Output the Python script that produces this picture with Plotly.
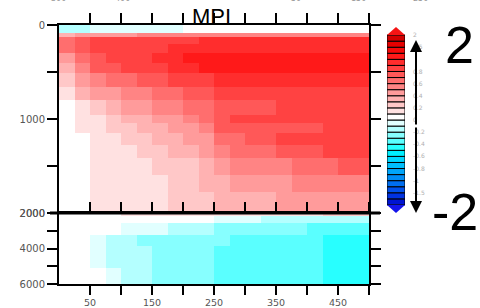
import plotly.graph_objects as go

# ---------------- data ----------------
years = [0, 25, 50, 75, 100, 125, 150, 175, 200, 225, 250, 275, 300, 325, 350, 375, 400, 425, 450, 475, 500]
depth_upper = [0, 80, 130, 200, 300, 400, 510, 660, 800, 960, 1040, 1150, 1280, 1420, 1600, 1780, 2000]
depth_lower = [2000, 2170, 2560, 3240, 3860, 5100, 6000]

temp_upper = [
    [-0.15, -0.12, -0.08, -0.06, -0.04, -0.03, -0.02, -0.01, 0.02, 0.03, 0.05, 0.05, 0.05, 0.05, 0.05, 0.05, 0.05, 0.05, 0.05, 0.05],
    [0.3, 0.4, 0.45, 0.45, 0.45, 0.5, 0.5, 0.5, 0.5, 0.5, 0.55, 0.55, 0.55, 0.55, 0.55, 0.55, 0.55, 0.55, 0.55, 0.55],
    [0.62, 0.75, 0.8, 0.82, 0.85, 0.85, 0.85, 0.88, 0.88, 0.9, 0.92, 0.92, 0.92, 0.92, 0.92, 0.92, 0.92, 0.92, 0.92, 0.92],
    [0.6, 0.75, 0.8, 0.85, 0.88, 0.88, 0.88, 0.9, 0.92, 0.95, 0.95, 0.95, 0.95, 0.95, 0.95, 0.95, 0.95, 0.95, 0.95, 0.95],
    [0.45, 0.65, 0.75, 0.8, 0.85, 0.88, 0.9, 0.95, 1.0, 1.0, 1.05, 1.05, 1.05, 1.05, 1.05, 1.08, 1.08, 1.08, 1.08, 1.08],
    [0.35, 0.55, 0.7, 0.75, 0.8, 0.85, 0.88, 0.92, 0.95, 1.0, 1.05, 1.05, 1.05, 1.05, 1.05, 1.05, 1.08, 1.08, 1.08, 1.08],
    [0.2, 0.45, 0.55, 0.6, 0.65, 0.7, 0.75, 0.8, 0.82, 0.85, 0.92, 0.95, 0.95, 0.95, 0.95, 0.95, 0.95, 0.95, 0.95, 0.95],
    [0.1, 0.3, 0.4, 0.45, 0.5, 0.55, 0.6, 0.65, 0.7, 0.72, 0.82, 0.85, 0.85, 0.85, 0.85, 0.88, 0.88, 0.88, 0.88, 0.88],
    [0.05, 0.18, 0.28, 0.33, 0.4, 0.45, 0.5, 0.55, 0.6, 0.62, 0.72, 0.75, 0.75, 0.78, 0.8, 0.85, 0.85, 0.85, 0.85, 0.85],
    [0.02, 0.12, 0.18, 0.25, 0.32, 0.38, 0.42, 0.48, 0.52, 0.65, 0.75, 0.8, 0.8, 0.8, 0.88, 0.88, 0.88, 0.88, 0.88, 0.88],
    [0.02, 0.1, 0.15, 0.2, 0.25, 0.3, 0.35, 0.4, 0.45, 0.52, 0.7, 0.78, 0.78, 0.78, 0.78, 0.78, 0.78, 0.85, 0.88, 0.88],
    [0.02, 0.06, 0.12, 0.15, 0.22, 0.25, 0.32, 0.38, 0.42, 0.48, 0.62, 0.65, 0.7, 0.72, 0.8, 0.8, 0.8, 0.8, 0.8, 0.8],
    [0.02, 0.04, 0.1, 0.12, 0.15, 0.22, 0.25, 0.3, 0.35, 0.42, 0.55, 0.6, 0.62, 0.65, 0.7, 0.72, 0.75, 0.8, 0.8, 0.8],
    [0.02, 0.03, 0.1, 0.12, 0.14, 0.18, 0.22, 0.25, 0.28, 0.35, 0.45, 0.5, 0.52, 0.55, 0.58, 0.6, 0.62, 0.65, 0.7, 0.7],
    [0.02, 0.02, 0.1, 0.1, 0.12, 0.15, 0.18, 0.22, 0.25, 0.3, 0.35, 0.4, 0.42, 0.45, 0.47, 0.5, 0.5, 0.52, 0.55, 0.55],
    [0.02, 0.02, 0.1, 0.12, 0.12, 0.15, 0.15, 0.2, 0.22, 0.25, 0.3, 0.33, 0.35, 0.38, 0.4, 0.42, 0.42, 0.45, 0.45, 0.48],
]

temp_lower = [
    [0.02, 0.02, 0.02, 0.05, 0.12, 0.12, 0.12, 0.12, 0.12, 0.12, 0.12, 0.12, 0.12, 0.12, 0.12, 0.12, 0.15, 0.22, 0.22, 0.22],
    [0.02, 0.02, 0.02, 0.02, 0.02, 0.02, 0.02, 0.02, 0.02, 0.02, -0.05, -0.05, -0.05, -0.12, -0.12, -0.12, -0.12, -0.12, -0.12, -0.12],
    [0.02, 0.02, 0.02, 0.02, -0.05, -0.05, -0.05, -0.15, -0.15, -0.15, -0.25, -0.25, -0.25, -0.3, -0.3, -0.3, -0.35, -0.35, -0.35, -0.35],
    [0.02, 0.02, -0.05, -0.12, -0.18, -0.25, -0.25, -0.25, -0.3, -0.3, -0.3, -0.35, -0.35, -0.35, -0.38, -0.38, -0.38, -0.42, -0.42, -0.42],
    [0.02, 0.02, -0.05, -0.12, -0.18, -0.18, -0.28, -0.28, -0.28, -0.28, -0.33, -0.33, -0.33, -0.38, -0.38, -0.38, -0.38, -0.45, -0.45, -0.45],
    [0.02, 0.02, 0.02, -0.05, -0.12, -0.12, -0.25, -0.25, -0.25, -0.25, -0.32, -0.32, -0.32, -0.32, -0.38, -0.38, -0.38, -0.42, -0.42, -0.42],
]

x_tickvals = [50, 100, 150, 200, 250, 300, 350, 400, 450, 500]
x_ticktext = ["50", "", "150", "", "250", "", "350", "", "450", ""]
yu_tickvals = [0, 500, 1000, 1500, 2000]
yu_ticktext = ["0", "", "1000", "", "2000"]
yl_tickvals = [2000, 3000, 4000, 5000, 6000]
yl_ticktext = ["2000", "", "4000", "", "6000"]

levels = [-2, -1.75, -1.5, -1.25, -1, -0.9, -0.8, -0.7, -0.6, -0.5, -0.4, -0.3, -0.2, -0.1,
          0, 0.1, 0.2, 0.3, 0.4, 0.5, 0.6, 0.7, 0.8, 0.9, 1, 1.25, 1.5, 1.75, 2]
cbar_labels = {2: "2", 1.5: "1.5", 0.8: "0.8", 0.6: "0.6", 0.4: "0.4", 0.2: "0.2", 0: "0",
               -0.2: "-0.2", -0.4: "-0.4", -0.6: "-0.6", -0.8: "-0.8", -1: "-1", -1.5: "-1.5", -2: "-2"}

box_colors = [
    "rgb(0,20,210)", "rgb(0,50,225)", "rgb(0,80,235)", "rgb(0,110,240)",
    "rgb(0,140,245)", "rgb(0,165,250)", "rgb(0,190,252)", "rgb(0,215,255)",
    "rgb(0,238,255)", "rgb(40,255,255)", "rgb(90,255,255)", "rgb(135,255,255)",
    "rgb(180,255,255)", "rgb(225,255,255)",
    "rgb(255,255,255)", "rgb(255,225,225)", "rgb(255,200,200)", "rgb(255,178,178)",
    "rgb(255,155,155)", "rgb(255,132,132)", "rgb(255,110,110)", "rgb(255,88,88)",
    "rgb(255,66,66)", "rgb(255,45,45)", "rgb(255,25,25)", "rgb(245,10,10)",
    "rgb(230,0,0)", "rgb(210,0,0)",
]
over_color = "rgb(245,20,20)"
under_color = "rgb(20,20,235)"

# ---------------- layout geometry (pixels) ----------------
W, H = 480, 308
px_left, px_right = 59, 369
px_top, px_mid, px_bot = 25, 213, 284
cb_left, cb_right = 387, 405
cb_top_tip, cb_bot_tip = 27, 213
cb_box_top, cb_box_bot = 35, 203


def fx(p):
    return p / W


def fy(p):
    return (H - p) / H


zmin, zmax = levels[0], levels[-1]
colorscale = []
for i, c in enumerate(box_colors):
    lo = (levels[i] - zmin) / (zmax - zmin)
    hi = (levels[i + 1] - zmin) / (zmax - zmin)
    colorscale.append([lo, c])
    colorscale.append([hi if i == len(box_colors) - 1 else hi - 1e-6, c])

fig = go.Figure()

fig.add_trace(go.Heatmap(x=years, y=depth_upper, z=temp_upper, zmin=zmin, zmax=zmax,
                         colorscale=colorscale, showscale=False, xaxis="x", yaxis="y",
                         hoverinfo="skip"))
fig.add_trace(go.Heatmap(x=years, y=depth_lower, z=temp_lower, zmin=zmin, zmax=zmax,
                         colorscale=colorscale, showscale=False, xaxis="x2", yaxis="y2",
                         hoverinfo="skip"))

# custom colorbar with outlined boxes
nbox = len(box_colors)
fig.add_trace(go.Bar(x=[0.5] * nbox, y=[1] * nbox, base=list(range(nbox)), width=1,
                     marker=dict(color=box_colors, line=dict(color="black", width=1)),
                     xaxis="x3", yaxis="y3", cliponaxis=False, hoverinfo="skip"))
tri_h = (cb_box_top - cb_top_tip) / ((cb_box_bot - cb_box_top) / nbox)
fig.add_trace(go.Scatter(x=[0, 1, 0.5, 0], y=[nbox, nbox, nbox + tri_h, nbox], fill="toself",
                         fillcolor=over_color, line=dict(width=0), mode="lines",
                         xaxis="x3", yaxis="y3", hoverinfo="skip"))
fig.add_trace(go.Scatter(x=[0, 1, 0.5, 0], y=[0, 0, -tri_h, 0], fill="toself",
                         fillcolor=under_color, line=dict(width=0), mode="lines",
                         xaxis="x3", yaxis="y3", hoverinfo="skip"))

cb_tickvals = [levels.index(l) for l in cbar_labels]
cb_ticktext = list(cbar_labels.values())

tickfont = dict(family="DejaVu Sans", size=10, color="#555555")
axis_common = dict(showgrid=False, zeroline=False, showline=True, linecolor="black", linewidth=2,
                   ticks="outside", tickwidth=2, tickcolor="black", automargin=False)

xdom = [fx(px_left), fx(px_right)]
fig.update_layout(
    width=W, height=H, margin=dict(l=0, r=0, t=0, b=0, pad=0),
    paper_bgcolor="white", plot_bgcolor="white", showlegend=False, barmode="overlay",
    xaxis=dict(domain=xdom, range=[0, 500], anchor="y", side="top", tickvals=x_tickvals,
               showticklabels=False, ticklen=10, **axis_common),
    yaxis=dict(domain=[fy(px_mid), fy(px_top)], range=[2000, 0], anchor="x",
               tickvals=yu_tickvals, ticktext=yu_ticktext, mirror="ticks", ticklen=10,
               tickfont=tickfont, **axis_common),
    xaxis2=dict(domain=xdom, range=[0, 500], anchor="y2", side="bottom", tickvals=x_tickvals,
                ticktext=x_ticktext, mirror="ticks", ticklen=9,
                tickfont=dict(family="DejaVu Sans", size=9.5, color="#555555"), **axis_common),
    yaxis2=dict(domain=[fy(px_bot), fy(px_mid)], range=[6000, 2000], anchor="x2",
                tickvals=yl_tickvals, ticktext=yl_ticktext, mirror="ticks", ticklen=10,
                tickfont=tickfont, **axis_common),
    xaxis3=dict(domain=[fx(cb_left), fx(cb_right)], range=[0, 1], anchor="y3", visible=False,
                automargin=False),
    yaxis3=dict(domain=[fy(cb_bot_tip), fy(cb_top_tip)], range=[-tri_h, nbox + tri_h], anchor="x3",
                side="right", showgrid=False, zeroline=False, showline=False, ticks="",
                tickvals=cb_tickvals, ticktext=cb_ticktext, ticklabelstandoff=7, automargin=False,
                tickfont=dict(family="DejaVu Sans", size=6, color="#b0b0b0")),
)

# thick separator line at 2000 m
fig.add_shape(type="line", xref="paper", yref="paper", x0=fx(px_left - 9), x1=fx(px_right + 11),
              y0=fy(px_mid), y1=fy(px_mid), line=dict(color="black", width=3))

annotations = [
    dict(text="MPI", x=fx(211), y=fy(16), xref="paper", yref="paper", showarrow=False,
         font=dict(family="Liberation Sans", size=22, color="black"), xanchor="center", yanchor="middle"),
    dict(text="2", x=fx(459), y=fy(45), xref="paper", yref="paper", showarrow=False,
         font=dict(family="Liberation Sans", size=52, color="black"), xanchor="center", yanchor="middle"),
    dict(text="-2", x=fx(455), y=fy(212), xref="paper", yref="paper", showarrow=False,
         font=dict(family="Liberation Sans", size=52, color="black"), xanchor="center", yanchor="middle"),
    dict(text="", x=fx(416), y=fy(40), xref="paper", yref="paper", ax=0, ay=86, showarrow=True,
         arrowhead=2, arrowsize=1.2, arrowwidth=2, arrowcolor="black", standoff=0),
    dict(text="", x=fx(416), y=fy(213), xref="paper", yref="paper", ax=0, ay=-87, showarrow=True,
         arrowhead=2, arrowsize=1.2, arrowwidth=2, arrowcolor="black", standoff=0),
]
# faint cut-off labels of the panel above
for txt, xp in [("300", 58), ("400", 123), ("50", 296), ("150", 358), ("250", 420)]:
    annotations.append(dict(text=txt, x=fx(xp), y=fy(-1), xref="paper", yref="paper", showarrow=False,
                            font=dict(family="DejaVu Sans", size=8, color="#999999"),
                            xanchor="center", yanchor="middle"))
fig.update_layout(annotations=annotations)

fig.write_html("out.html", config={"displayModeBar": False},
               post_script="document.body.style.margin='0';")
